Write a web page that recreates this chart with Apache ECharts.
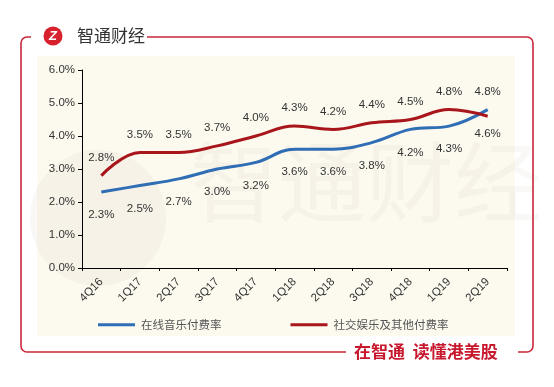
<!DOCTYPE html>
<html><head><meta charset="utf-8">
<script src="https://cdn.jsdelivr.net/npm/echarts@6/dist/echarts.min.js"></script>
<style>html,body{margin:0;padding:0;background:#fff;}#c{width:554px;height:387px;}</style>
</head><body><div id="c"></div>
<script>
const categories = ['4Q16','1Q17','2Q17','3Q17','4Q17','1Q18','2Q18','3Q18','4Q18','1Q19','2Q19'];
const musicRate = [2.3, 2.5, 2.7, 3.0, 3.2, 3.6, 3.6, 3.8, 4.2, 4.3, 4.8];
const socialRate = [2.8, 3.5, 3.5, 3.7, 4.0, 4.3, 4.2, 4.4, 4.5, 4.8, 4.6];
const seriesNames = ['在线音乐付费率', '社交娱乐及其他付费率'];
const yTicks = [0, 1, 2, 3, 4, 5, 6];

const BLUE = '#2F6DB5', RED = '#A8161C', FRAME = '#C8283A';
const chart = echarts.init(document.getElementById('c'), null, {renderer: 'canvas'});
const labelBase = {show: true, fontFamily: 'Liberation Sans, Arial, sans-serif', fontSize: 11.5, color: '#333',
  formatter: p => p.value.toFixed(1) + '%'};
const last = categories.length - 1;
const musicData = musicRate.map((v, i) => i === last ? {value: v, label: {position: 'top', distance: 12}} : v);
const socialData = socialRate.map((v, i) => i === last ? {value: v, label: {position: 'bottom', distance: 12}} : v);

chart.setOption({
  animation: false,
  backgroundColor: '#fff',
  graphic: [
    {type: 'rect', z: -10, silent: true, shape: {x: 37, y: 56, width: 478, height: 280}, style: {fill: '#FCF9EF'}},
    {type: 'circle', z: -9, silent: true, shape: {cx: 98, cy: 218, r: 68}, style: {fill: 'rgba(120,100,70,0.045)'}},
    {type: 'text', z: -9, silent: true, x: 190, y: 182, style: {text: '智通财经', font: '88px "Noto Sans CJK SC"', fill: 'rgba(120,100,70,0.045)', verticalAlign: 'middle'}},
    {type: 'rect', z: -8, silent: true, shape: {x: 21, y: 37, width: 512, height: 315, r: 6}, style: {fill: 'none', stroke: FRAME, lineWidth: 1.6}},
    {type: 'rect', z: -7, silent: true, shape: {x: 31, y: 30, width: 116, height: 14}, style: {fill: '#fff'}},
    {type: 'rect', z: -7, silent: true, shape: {x: 346, y: 345, width: 172, height: 14}, style: {fill: '#fff'}},
    {type: 'circle', z: -6, silent: true, shape: {cx: 53, cy: 36, r: 9.5}, style: {fill: '#D7222E'}},
    {type: 'text', z: -5, silent: true, x: 53, y: 36, style: {text: 'Z', font: 'italic bold 13px "Liberation Sans"', fill: '#fff', align: 'center', verticalAlign: 'middle'}},
    {type: 'text', z: -5, silent: true, x: 77, y: 36, style: {text: '智通财经', font: '17px "Noto Sans CJK SC"', fill: '#333', verticalAlign: 'middle'}},
    {type: 'text', z: -5, silent: true, x: 354, y: 352, style: {text: '在智通  读懂港美股', font: 'bold 17px "Noto Sans CJK SC"', fill: '#C8182E', verticalAlign: 'middle'}}
  ],
  grid: {left: 82, right: 47, top: 70, bottom: 119, containLabel: false},
  legend: {
    left: 93, top: 314, itemWidth: 37, itemHeight: 3, itemGap: 69, icon: 'rect',
    textStyle: {fontFamily: 'Noto Sans CJK SC', fontSize: 11.5, color: '#555', padding: [0, 0, 0, 1]},
    data: [{name: seriesNames[0], itemStyle: {color: BLUE, opacity: 1}}, {name: seriesNames[1], itemStyle: {color: RED, opacity: 1}}]
  },
  xAxis: {
    type: 'category', data: categories, boundaryGap: true,
    axisLine: {lineStyle: {color: '#000', width: 1}},
    axisTick: {show: true, length: 3, lineStyle: {color: '#000'}},
    axisLabel: {rotate: 45, fontFamily: 'Liberation Sans, Arial, sans-serif', fontSize: 11.5, color: '#333', margin: 12}
  },
  yAxis: {
    type: 'value', min: yTicks[0], max: yTicks[yTicks.length - 1], interval: 1,
    axisLine: {show: true, lineStyle: {color: '#000', width: 1}},
    axisTick: {show: true, length: 4, lineStyle: {color: '#000'}},
    splitLine: {show: false},
    axisLabel: {fontFamily: 'Liberation Sans, Arial, sans-serif', fontSize: 11.5, color: '#333', margin: 7,
      formatter: v => v.toFixed(1) + '%'}
  },
  series: [
    {name: seriesNames[0], type: 'line', data: musicData, smooth: 0.4, symbol: 'circle', symbolSize: 0.1, showSymbol: true,
      lineStyle: {color: BLUE, width: 3}, itemStyle: {color: BLUE},
      label: Object.assign({}, labelBase, {position: 'bottom', distance: 17}), labelLayout: {hideOverlap: false}},
    {name: seriesNames[1], type: 'line', data: socialData, smooth: 0.4, symbol: 'circle', symbolSize: 0.1, showSymbol: true,
      lineStyle: {color: RED, width: 3}, itemStyle: {color: RED},
      label: Object.assign({}, labelBase, {position: 'top', distance: 12}), labelLayout: {hideOverlap: false}}
  ]
});
</script></body></html>
